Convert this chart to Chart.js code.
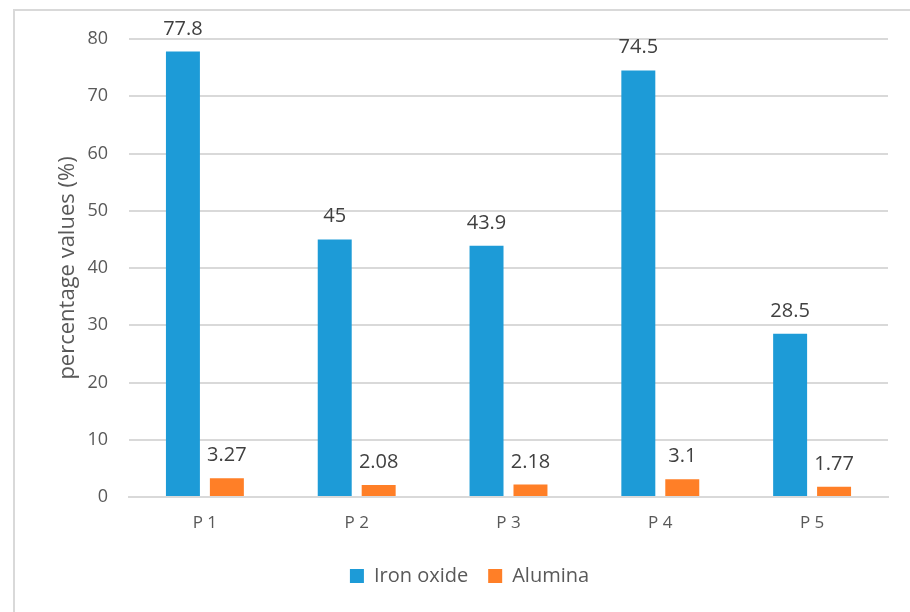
<!DOCTYPE html>
<html>
<head>
<meta charset="utf-8">
<script src="https://cdn.jsdelivr.net/npm/chart.js@4/dist/chart.umd.min.js"></script>
<style>
  html, body { margin: 0; padding: 0; background: #ffffff; }
  #wrap { position: relative; width: 910px; height: 612px; }
</style>
</head>
<body>
<div id="wrap"><canvas id="chart" width="910" height="612"></canvas></div>
<script>
// Sample points and measured compositions (%)
const categories = ['P 1', 'P 2', 'P 3', 'P 4', 'P 5'];
const ironOxide = [77.8, 45, 43.9, 74.5, 28.5];
const alumina = [3.27, 2.08, 2.18, 3.1, 1.77];
const yTicks = [0, 10, 20, 30, 40, 50, 60, 70, 80];
const seriesNames = ['Iron oxide', 'Alumina'];

const FONT = "'Open Sans', 'DejaVu Sans', sans-serif";
const GRID = '#d9d9d9';

// Light frame around the chart
const framePlugin = {
  id: 'frame',
  beforeDraw(chart) {
    const ctx = chart.ctx;
    ctx.save();
    ctx.fillStyle = '#ffffff';
    ctx.fillRect(0, 0, chart.width, chart.height);
    ctx.strokeStyle = GRID;
    ctx.lineWidth = 2;
    ctx.strokeRect(14, 10, chart.width + 40, chart.height + 40);
    ctx.restore();
  }
};

// Value labels above each bar
const valueLabels = {
  id: 'valueLabels',
  afterDatasetsDraw(chart) {
    const ctx = chart.ctx;
    ctx.save();
    ctx.font = '20px ' + FONT;
    ctx.fillStyle = '#404040';
    ctx.textAlign = 'center';
    ctx.textBaseline = 'alphabetic';
    chart.data.datasets.forEach((ds, di) => {
      const meta = chart.getDatasetMeta(di);
      meta.data.forEach((bar, i) => {
        ctx.fillText(String(ds.data[i]), bar.x, bar.y - 17);
      });
    });
    ctx.restore();
  }
};

new Chart(document.getElementById('chart'), {
  type: 'bar',
  data: {
    labels: categories,
    datasets: [
      {
        label: seriesNames[0],
        data: ironOxide,
        backgroundColor: '#1d9bd7',
        categoryPercentage: 0.579,
        barPercentage: 0.773
      },
      {
        label: seriesNames[1],
        data: alumina,
        backgroundColor: '#ff7f27',
        categoryPercentage: 0.579,
        barPercentage: 0.773
      }
    ]
  },
  options: {
    responsive: false,
    animation: false,
    devicePixelRatio: 1,
    layout: { padding: { left: 51, right: 22, top: 39, bottom: 16 } },
    plugins: {
      tooltip: { enabled: false },
      legend: {
        position: 'bottom',
        labels: {
          boxWidth: 14,
          boxHeight: 14,
          padding: 20,
          color: '#595959',
          font: { family: FONT, size: 20 }
        }
      }
    },
    scales: {
      x: {
        grid: { display: false, drawTicks: false },
        border: { display: true, color: GRID, width: 2 },
        ticks: {
          color: '#595959',
          padding: 16,
          font: { family: FONT, size: 17 }
        },
        afterFit(scale) { scale.height = 49; }
      },
      y: {
        min: 0,
        max: 80,
        afterBuildTicks(scale) { scale.ticks = yTicks.map(v => ({ value: v })); },
        grid: { color: GRID, lineWidth: 2, drawTicks: false },
        border: { display: false },
        ticks: {
          color: '#595959',
          padding: 21,
          font: { family: FONT, size: 18 }
        },
        title: {
          display: true,
          text: 'percentage values (%)',
          color: '#595959',
          padding: 4,
          font: { family: FONT, size: 22 }
        },
        afterFit(scale) { scale.width = 78; }
      }
    }
  },
  plugins: [framePlugin, valueLabels]
});
</script>
</body>
</html>
